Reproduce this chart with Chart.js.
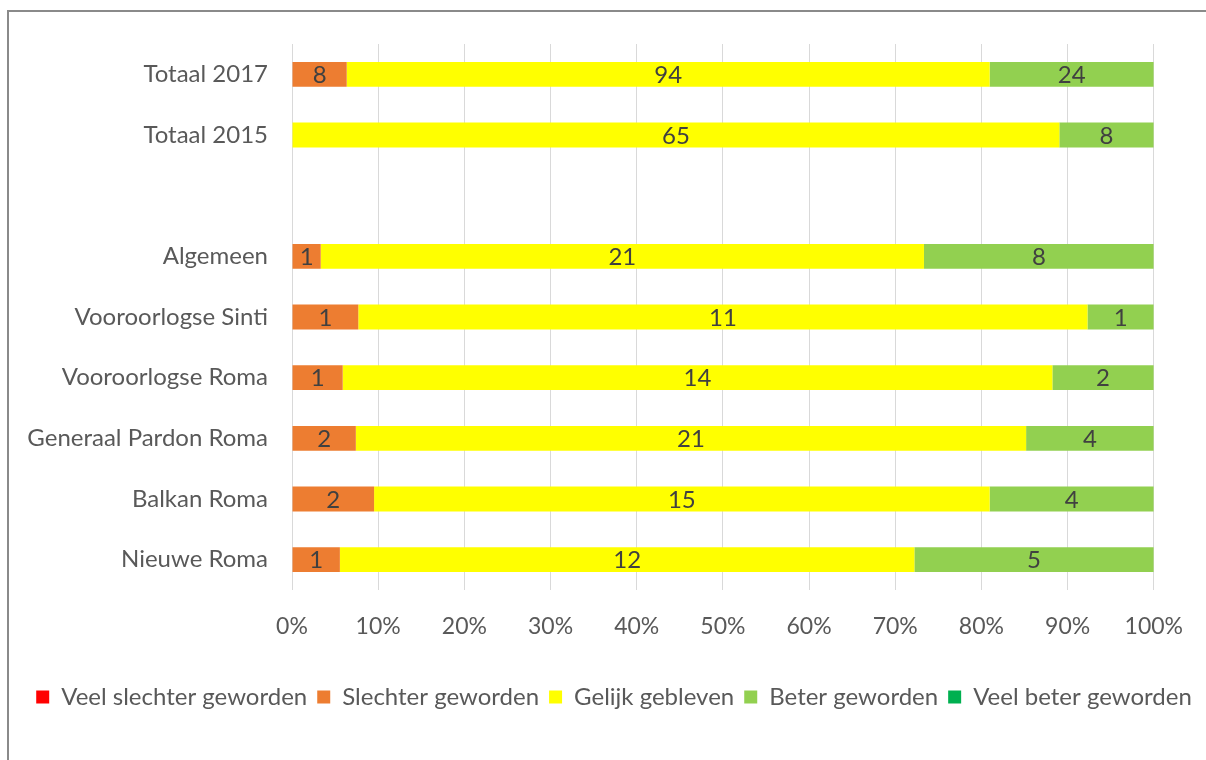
<!DOCTYPE html>
<html>
<head>
<meta charset="utf-8">
<script src="https://cdn.jsdelivr.net/npm/chart.js@4.4.1/dist/chart.umd.min.js"></script>
<style>
  html, body { margin: 0; padding: 0; background: #fff; overflow: hidden; }
  #wrap { position: relative; width: 1206px; height: 760px; }
  #frame { position: absolute; left: 7px; top: 10px; width: 1230px; height: 800px; border: 2px solid #8a8a8a; box-sizing: border-box; pointer-events: none; }
</style>
</head>
<body>
<div id="wrap">
  <canvas id="chart" width="1206" height="760"></canvas>
  <div id="frame"></div>
</div>
<script>
const categories = ['Totaal 2017', 'Totaal 2015', '', 'Algemeen', 'Vooroorlogse Sinti', 'Vooroorlogse Roma', 'Generaal Pardon Roma', 'Balkan Roma', 'Nieuwe Roma'];
const seriesNames = ['Veel slechter geworden', 'Slechter geworden', 'Gelijk gebleven', 'Beter geworden', 'Veel beter geworden'];
const veelSlechter = [0, 0, 0, 0, 0, 0, 0, 0, 0];
const slechter = [8, 0, 0, 1, 1, 1, 2, 2, 1];
const gelijk = [94, 65, 0, 21, 11, 14, 21, 15, 12];
const beter = [24, 8, 0, 8, 1, 2, 4, 4, 5];
const veelBeter = [0, 0, 0, 0, 0, 0, 0, 0, 0];
const seriesColors = ['#FF0000', '#ED7D31', '#FFFF00', '#92D050', '#00B050'];

const FONT = 'Lato';
const TEXT = '#595959';

const counts = [veelSlechter, slechter, gelijk, beter, veelBeter];
const totals = categories.map((c, i) => counts.reduce((s, arr) => s + arr[i], 0));

const datasets = counts.map((arr, k) => ({
  label: seriesNames[k],
  data: arr.map((v, i) => totals[i] ? v / totals[i] * 100 : 0),
  counts: arr,
  backgroundColor: seriesColors[k],
  borderWidth: 0,
  barPercentage: 0.41,
  categoryPercentage: 1
}));

// draws the count in the middle of every segment
const segmentLabels = {
  id: 'segmentLabels',
  afterDatasetsDraw(chart) {
    const ctx = chart.ctx;
    ctx.save();
    ctx.font = '24px ' + FONT;
    ctx.fillStyle = '#404040';
    ctx.textAlign = 'center';
    ctx.textBaseline = 'middle';
    chart.data.datasets.forEach((ds, k) => {
      const meta = chart.getDatasetMeta(k);
      meta.data.forEach((bar, i) => {
        const n = ds.counts[i];
        if (!n) return;
        ctx.fillText(String(n), (bar.x + bar.base) / 2, bar.y + 1);
      });
    });
    ctx.restore();
  }
};

new Chart(document.getElementById('chart'), {
  type: 'bar',
  data: { labels: categories, datasets },
  plugins: [segmentLabels],
  options: {
    indexAxis: 'y',
    responsive: false,
    animation: false,
    devicePixelRatio: 1,
    layout: { padding: { left: 22, right: 0, top: 44, bottom: 41 } },
    plugins: {
      tooltip: { enabled: false },
      legend: {
        position: 'bottom',
        labels: {
          boxWidth: 13,
          boxHeight: 13,
          padding: 10,
          color: TEXT,
          font: { family: FONT, size: 24 }
        }
      }
    },
    scales: {
      x: {
        type: 'linear',
        stacked: true,
        min: 0,
        max: 100,
        grid: { color: '#D9D9D9', drawTicks: false },
        border: { display: false },
        ticks: {
          stepSize: 10,
          padding: 23,
          maxRotation: 0,
          color: TEXT,
          font: { family: FONT, size: 23 },
          callback: v => v + '%'
        },
        afterFit: s => { s.height = 85; }
      },
      y: {
        stacked: true,
        grid: { display: false },
        border: { display: false },
        ticks: { padding: 16, color: TEXT, font: { family: FONT, size: 24 } },
        afterFit: s => { s.width = 270; }
      },
      yRight: {
        type: 'category',
        position: 'right',
        labels: categories,
        grid: { display: false },
        border: { display: false },
        ticks: { display: false },
        afterFit: s => { s.width = 49; }
      }
    }
  }
});
</script>
</body>
</html>
